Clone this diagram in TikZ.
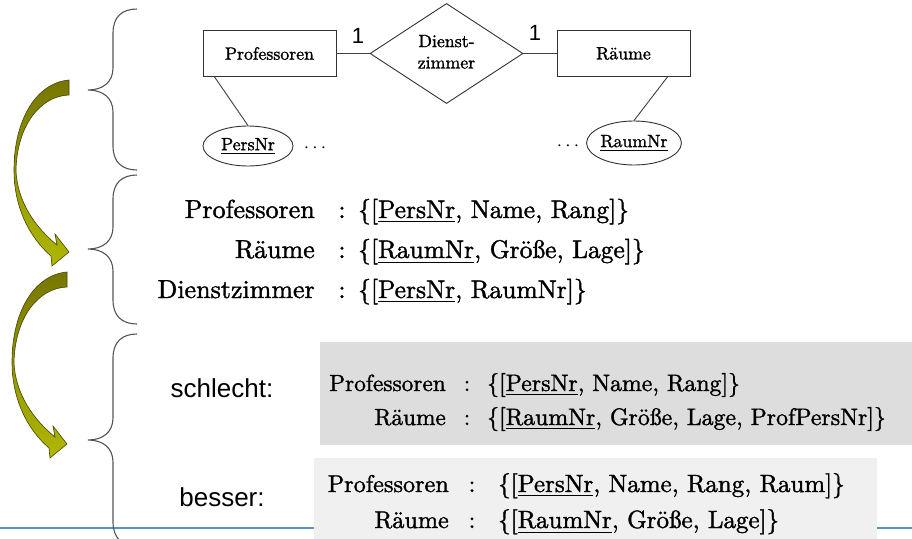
\documentclass[tikz,border=0pt]{standalone}
\usepackage{fontspec}
\setmainfont{lmroman10-regular.otf}[FakeBold=1.4]
\newfontfamily\arial{Liberation Sans}
\usepackage{graphicx}
\usetikzlibrary{shapes.geometric}
\definecolor{olivedark}{HTML}{767600}
\definecolor{olivelight}{HTML}{B0B800}
\definecolor{arrowline}{HTML}{45450C}
\definecolor{bracegray}{HTML}{555555}
\definecolor{boxbad}{HTML}{DDDDDD}
\definecolor{boxgood}{HTML}{F0F0F0}
\definecolor{slideblue}{HTML}{5B8FC7}
\newcommand\greenarrow[2]{%
  \begin{scope}[shift={(#1,#2)}]
    \path[bigarrow] (69,80) .. controls (36,83) and (14,120) .. (14,170)
      .. controls (14,208) and (30,238) .. (51,256)
      -- (52,266) -- (69,252) -- (55,234) -- (57,245)
      .. controls (36,228) and (17,202) .. (16,170)
      .. controls (17,126) and (40,96) .. (69,95) -- cycle;
  \end{scope}}
\newcommand\bracedraw[3]{%
  \draw[bracepath] (137,#1) .. controls (122,#1) and (113,#1+8) .. (113,#1+24)
    -- (113,#2-22) .. controls (113,#2-8) and (103,#2) .. (88,#2)
    .. controls (103,#2) and (113,#2+8) .. (113,#2+22)
    -- (113,#3-24) .. controls (113,#3-8) and (122,#3) .. (137,#3);}
\tikzset{
  erline/.style={draw=black!75, line width=0.9pt},
  entity/.style={draw=black!80, line width=0.9pt, rectangle, minimum width=133pt, minimum height=46pt, inner sep=0pt},
  relship/.style={draw=black!80, line width=0.9pt, diamond, minimum width=153pt, minimum height=80pt, inner sep=0pt, align=center},
  attrib/.style={draw=black!80, line width=0.9pt, ellipse, minimum width=90pt, minimum height=40pt, inner sep=0pt},
  card/.style={font=\arial\fontsize{22}{26}\selectfont, inner sep=0pt},
  lbl/.style={font=\arial\fontsize{26}{30}\selectfont, inner sep=0pt},
  relname/.style={anchor=base east, inner sep=0pt},
  relcolon/.style={anchor=base, inner sep=0pt},
  relset/.style={anchor=base west, inner sep=0pt},
  bracepath/.style={draw=bracegray, line width=1.1pt},
  bigarrow/.style={top color=olivedark, bottom color=olivelight, draw=arrowline, line width=0.6pt},
}
\begin{document}
\begin{tikzpicture}[x=1pt, y=-1pt]
\useasboundingbox (0,0) rectangle (912,538);
\clip (0,0) rectangle (912,538);
\fill[white] (0,0) rectangle (912,538);

% grey boxes and slide line
\fill[boxbad] (320,342) rectangle (912,445);
\draw[slideblue, line width=1.3pt] (0,528) -- (912,528);
\fill[boxgood] (314,458) rectangle (877,545);

% green arrows
\greenarrow{0}{0}
\greenarrow{-2}{192}

% braces
\bracedraw{9}{90}{170}
\bracedraw{175}{249}{324}
\bracedraw{334}{440}{546}

% ER diagram
\node[entity] (prof) at (269.5,53.5) {\scalebox{1.78}{Professoren}};
\node[relship] (dz) at (446.5,53.5) {\scalebox{1.78}{\begin{tabular}{@{}c@{}}Dienst-\\zimmer\end{tabular}}};
\node[entity] (raum) at (623.5,53.5) {\scalebox{1.78}{Räume}};
\draw[erline] (prof.east) -- (dz.west);
\draw[erline] (dz.east) -- (raum.west);
\node[card] (c1) at (358,36) {1};
\node[card] (c2) at (535,33) {1};
\node[attrib] (pers) at (248,146) {\scalebox{1.78}{\underline{PersNr}}};
\node[attrib, minimum width=91pt, minimum height=44pt] (rnr) at (634,143) {\scalebox{1.78}{\underline{RaumNr}}};
\coordinate (pa) at ([xshift=12pt]prof.south west);
\coordinate (ra) at ([xshift=-23pt]raum.south east);
\draw[erline] (pa) -- (pers.north);
\draw[erline] (ra) -- (rnr.north);
\node[anchor=base, inner sep=0pt] (dots1) at (315,152) {\scalebox{1.9}{$\cdots$}};
\node[anchor=base, inner sep=0pt] (dots2) at (568,150) {\scalebox{1.9}{$\cdots$}};

% relational schema
\node[relname] (aN1) at (315,218) {\scalebox{2.6}{Professoren}};
\node[relcolon] (aC1) at (342,218) {\scalebox{2.6}{:}};
\node[relset] (aS1) at (358,218) {\scalebox{2.55}{\{[\underline{PersNr}, Name, Rang]\}}};
\node[relname] (aN2) at (315,258) {\scalebox{2.6}{Räume}};
\node[relcolon] (aC2) at (342,258) {\scalebox{2.6}{:}};
\node[relset] (aS2) at (358,258) {\scalebox{2.55}{\{[\underline{RaumNr}, Größe, Lage]\}}};
\node[relname] (aN3) at (315,298) {\scalebox{2.6}{Dienstzimmer}};
\node[relcolon] (aC3) at (342,298) {\scalebox{2.6}{:}};
\node[relset] (aS3) at (358,298) {\scalebox{2.55}{\{[\underline{PersNr}, RaumNr]\}}};

% schlecht
\node[lbl] (bad) at (222,388) {schlecht:};
\node[relname] (bN1) at (446,391) {\scalebox{2.33}{Professoren}};
\node[relcolon] (bC1) at (467,391) {\scalebox{2.33}{:}};
\node[relset] (bS1) at (487,391) {\scalebox{2.38}{\{[\underline{PersNr}, Name, Rang]\}}};
\node[relname] (bN2) at (446,425) {\scalebox{2.33}{Räume}};
\node[relcolon] (bC2) at (467,425) {\scalebox{2.33}{:}};
\node[relset] (bS2) at (487,425) {\scalebox{2.38}{\{[\underline{RaumNr}, Größe, Lage, ProfPersNr]\}}};

% besser
\node[lbl] (good) at (222,497) {besser:};
\node[relname] (gN1) at (449,492) {\scalebox{2.42}{Professoren}};
\node[relcolon] (gC1) at (472,492) {\scalebox{2.42}{:}};
\node[relset] (gS1) at (498,492) {\scalebox{2.5}{\{[\underline{PersNr}, Name, Rang, Raum]\}}};
\node[relname] (gN2) at (449,528) {\scalebox{2.42}{Räume}};
\node[relcolon] (gC2) at (472,528) {\scalebox{2.42}{:}};
\node[relset] (gS2) at (498,528) {\scalebox{2.5}{\{[\underline{RaumNr}, Größe, Lage]\}}};
\end{tikzpicture}
\end{document}
